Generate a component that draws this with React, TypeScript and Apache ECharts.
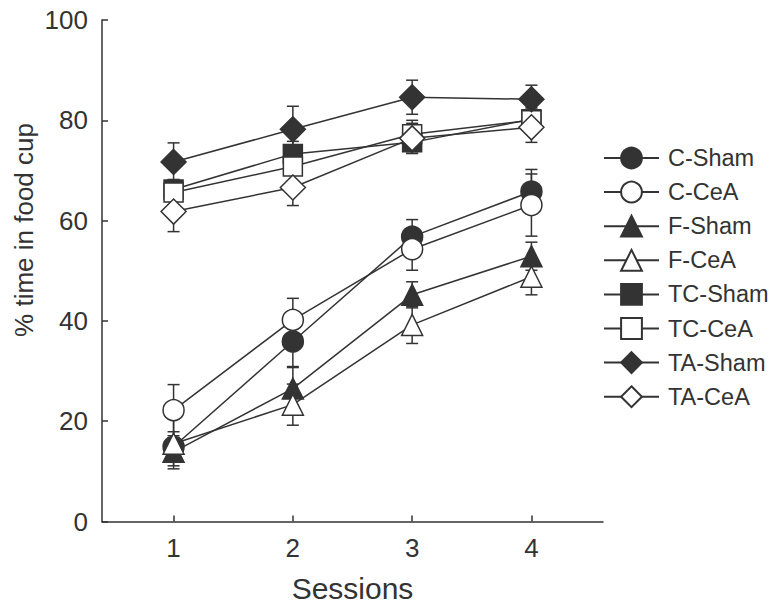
import React, { useEffect, useRef } from "react";
import * as echarts from "echarts";

const sessions = [1, 2, 3, 4];
const xTicks = [1, 2, 3, 4];

const cSham = [14.9, 35.9, 56.8, 65.8];
const cShamErr = [3, 5, 3.4, 4.4];
const cCeA = [22.2, 40.2, 54.3, 63.1];
const cCeAErr = [5.1, 4.3, 4.2, 6.2];
const fSham = [13.9, 26.5, 45.2, 52.9];
const fShamErr = [2.8, 4.2, 2.6, 2.8];
const fCeA = [15.5, 23.3, 39.2, 48.8];
const fCeAErr = [5, 4.1, 3.7, 3.6];
const tcSham = [66.2, 73.3, 75.6, 80.2];
const tcShamErr = [2, 2.5, 2.2, 2];
const tcCeA = [65.6, 70.8, 77.2, 80.0];
const tcCeAErr = [2.5, 3.2, 2.8, 2.5];
const taSham = [71.7, 78.2, 84.6, 84.2];
const taShamErr = [3.8, 4.6, 3.4, 2.8];
const taCeA = [61.8, 66.6, 76.4, 78.6];
const taCeAErr = [4, 3.6, 3, 3];

const groupNames = ["C-Sham", "C-CeA", "F-Sham", "F-CeA", "TC-Sham", "TC-CeA", "TA-Sham", "TA-CeA"];
const groupValues = [cSham, cCeA, fSham, fCeA, tcSham, tcCeA, taSham, taCeA];
const groupErrors = [cShamErr, cCeAErr, fShamErr, fCeAErr, tcShamErr, tcCeAErr, taShamErr, taCeAErr];
const groupSymbols = ["circle", "circle", "triangle", "triangle", "rect", "rect", "diamond", "diamond"];
const groupFilled = [true, false, true, false, true, false, true, false];

const INK = "#333333";
const FONT = "'Liberation Sans', Arial, sans-serif";

const symbolSizeFor = (s: string) => (s === "diamond" ? 25 : s === "rect" ? 19 : 21);

export default function App() {
  const ref = useRef<HTMLDivElement>(null);
  useEffect(() => {
    document.body.style.margin = "0";
    if (!ref.current) return;
    const chart = echarts.init(ref.current, undefined, { renderer: "svg" });

    const errSeries = groupNames.map((name, gi) => ({
      type: "custom",
      name: name + " err",
      z: 1,
      silent: true,
      data: sessions.map((s, i) => [s, groupValues[gi][i], groupErrors[gi][i]]),
      renderItem: (params: any, api: any) => {
        const x = api.value(0);
        const y = api.value(1);
        const e = api.value(2);
        const top = api.coord([x, y + e]);
        const bot = api.coord([x, y - e]);
        const hw = 6;
        const st = { stroke: INK, lineWidth: 1.5 };
        return {
          type: "group",
          children: [
            { type: "line", shape: { x1: top[0], y1: top[1], x2: bot[0], y2: bot[1] }, style: st },
            { type: "line", shape: { x1: top[0] - hw, y1: top[1], x2: top[0] + hw, y2: top[1] }, style: st },
            { type: "line", shape: { x1: bot[0] - hw, y1: bot[1], x2: bot[0] + hw, y2: bot[1] }, style: st },
          ],
        };
      },
    }));

    const lineSeries = groupNames.map((name, gi) => ({
      type: "line",
      name,
      z: 2,
      data: sessions.map((s, i) => [s, groupValues[gi][i]]),
      symbol: groupSymbols[gi],
      symbolSize: symbolSizeFor(groupSymbols[gi]),
      showAllSymbol: true,
      lineStyle: { color: INK, width: 1.5 },
      itemStyle: {
        color: groupFilled[gi] ? INK : "#ffffff",
        borderColor: INK,
        borderWidth: 1.5,
      },
      emphasis: { disabled: true },
    }));

    chart.setOption({
      animation: false,
      backgroundColor: "#ffffff",
      grid: { left: 102, right: 176, top: 20, bottom: 91.5 },
      xAxis: {
        type: "value",
        min: 0.4,
        max: 4.6,
        axisLine: { lineStyle: { color: INK, width: 1.5 } },
        axisTick: { inside: true, length: 6, customValues: xTicks, lineStyle: { color: INK, width: 1.5 } },
        axisLabel: { customValues: xTicks, color: INK, fontSize: 26, fontFamily: FONT, margin: 13 },
        splitLine: { show: false },
        name: "Sessions",
        nameLocation: "middle",
        nameGap: 52,
        nameTextStyle: { color: INK, fontSize: 30, fontFamily: FONT },
      },
      yAxis: {
        type: "value",
        min: 0,
        max: 100,
        interval: 20,
        axisLine: { show: true, lineStyle: { color: INK, width: 1.5 } },
        axisTick: { show: true, inside: true, length: 6, lineStyle: { color: INK, width: 1.5 } },
        axisLabel: { color: INK, fontSize: 26, fontFamily: FONT, margin: 14 },
        splitLine: { show: false },
      },
      legend: {
        data: groupNames,
        orient: "vertical",
        left: 598,
        top: 141,
        itemWidth: 55,
        itemHeight: 26,
        itemGap: 10.1,
        selectedMode: false,
        textStyle: { color: INK, fontSize: 23.5, fontFamily: FONT, padding: [0, 0, 0, 4] },
      },
      graphic: [
        {
          type: "text",
          x: 24,
          y: 230,
          rotation: Math.PI / 2,
          style: {
            text: "% time in food cup",
            fill: INK,
            font: `26px ${FONT}`,
            align: "center",
            verticalAlign: "middle",
          },
        },
      ],
      series: [...errSeries, ...lineSeries],
    });
    return () => chart.dispose();
  }, []);
  return <div ref={ref} style={{ width: 779, height: 613 }} />;
}
